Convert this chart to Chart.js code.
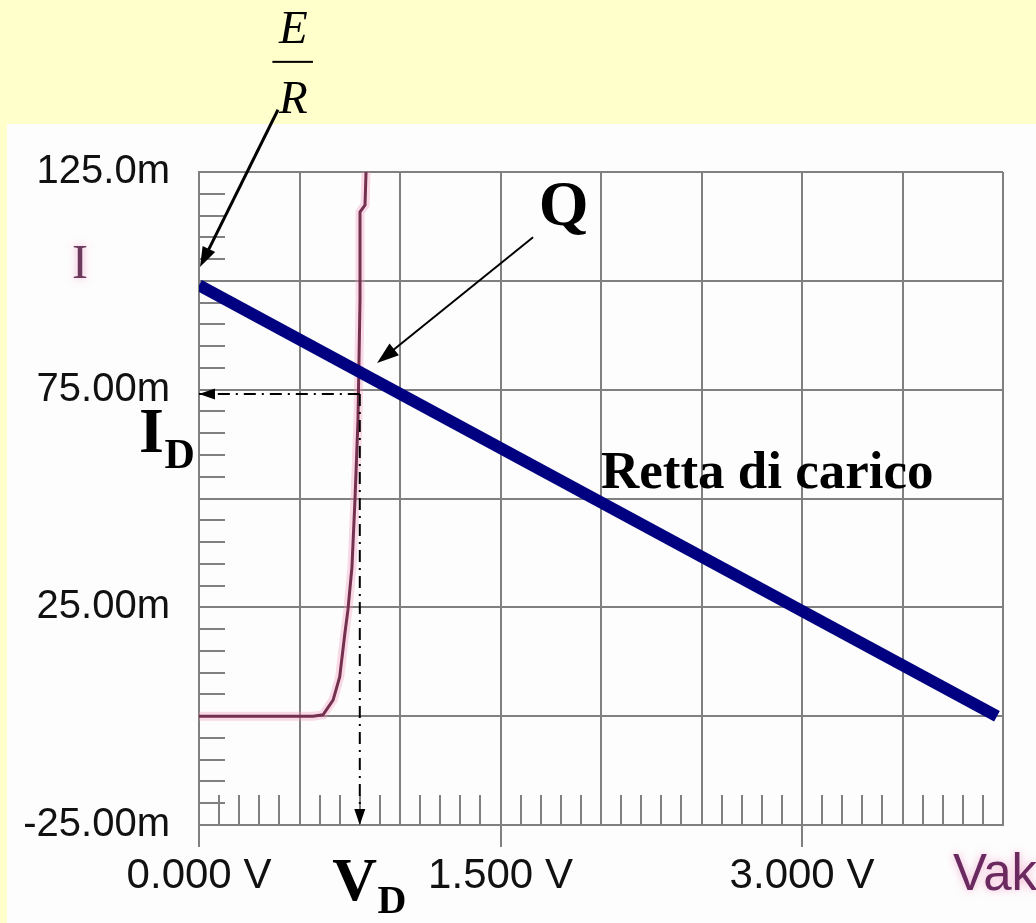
<!DOCTYPE html>
<html lang="it">
<head>
<meta charset="utf-8">
<title>Retta di carico</title>
<script src="https://cdn.jsdelivr.net/npm/chart.js@4.4.1/dist/chart.umd.min.js"></script>
<style>
  html, body { margin: 0; padding: 0; background: #ffffcc; }
  #contenitore { position: relative; width: 1036px; height: 923px; overflow: hidden; }
  #pannello { position: absolute; left: 7px; top: 124px; right: 0; bottom: 0; background: #fdfdfd; }
  #grafico { position: absolute; left: 0; top: 0; }
</style>
</head>
<body>
<div id="contenitore">
  <div id="pannello"></div>
  <canvas id="grafico" width="1036" height="923"></canvas>
</div>
<script>
const ctx = document.getElementById('grafico').getContext('2d');

// Caratteristica del diodo: tensione (V) e corrente (mA)
const tensioneDiodo = [0, 0.567, 0.617, 0.667, 0.70, 0.726, 0.741, 0.761, 0.776, 0.791, 0.801, 0.801, 0.826, 0.831];
const correnteDiodo = [0, 0, 0.3, 3.7, 9.0, 19.1, 24.4, 34.3, 49.7, 68, 95.6, 115.8, 117.4, 125];

// Retta di carico: da E/R sull'asse I fino a E sull'asse V
const tensioneCarico = [0, 3.97];
const correnteCarico = [99, 0];

// Punto di lavoro Q
const tensioneQ = 0.80;
const correnteQ = 74;

// Etichette degli assi
const valoriX = [0, 1.5, 3];
const etichetteX = ['0.000 V', '1.500 V', '3.000 V'];
const valoriY = [125, 75, 25, -25];
const etichetteY = ['125.0m', '75.00m', '25.00m', '-25.00m'];

const punti = (xs, ys) => xs.map((x, i) => ({ x, y: ys[i] }));
const grigio = '#808080';
const serif = '"Liberation Serif", "Times New Roman", serif';

// Freccia con punta piena
function freccia(c, x0, y0, x1, y1, spessore, lung, larg) {
  const ang = Math.atan2(y1 - y0, x1 - x0);
  c.lineWidth = spessore;
  c.beginPath();
  c.moveTo(x0, y0);
  c.lineTo(x1 - Math.cos(ang) * lung * 0.8, y1 - Math.sin(ang) * lung * 0.8);
  c.stroke();
  punta(c, x1, y1, ang, lung, larg);
}

function punta(c, x1, y1, ang, lung, larg) {
  const bx = x1 - lung * Math.cos(ang), by = y1 - lung * Math.sin(ang);
  c.beginPath();
  c.moveTo(x1, y1);
  c.lineTo(bx + larg / 2 * Math.sin(ang), by - larg / 2 * Math.cos(ang));
  c.lineTo(bx - larg / 2 * Math.sin(ang), by + larg / 2 * Math.cos(ang));
  c.closePath();
  c.fill();
}

const annotazioni = {
  id: 'annotazioni',
  // tacche secondarie sugli assi
  beforeDatasetsDraw(chart) {
    const { ctx: c, chartArea: a, scales: { x, y } } = chart;
    c.save();
    c.strokeStyle = grigio;
    c.lineWidth = 2;
    c.beginPath();
    for (let k = -5; k < 25; k++) {
      if (k % 5 === 0) continue;
      const py = Math.round(y.getPixelForValue(k * 5));
      c.moveTo(a.left, py);
      c.lineTo(a.left + 26, py);
    }
    for (let k = 1; k < 40; k++) {
      if (k % 5 === 0) continue;
      const px = Math.round(x.getPixelForValue(k / 10));
      c.moveTo(px, a.bottom);
      c.lineTo(px, a.bottom - 30);
    }
    c.stroke();
    c.restore();
  },
  afterDraw(chart) {
    const { ctx: c, scales: { x, y } } = chart;
    const px = v => x.getPixelForValue(v);
    const py = v => y.getPixelForValue(v);
    c.save();
    c.fillStyle = '#000';
    c.strokeStyle = '#000';

    // frecce verso E/R e verso Q
    freccia(c, px(0.393), py(139.3), px(0.005), py(103.2), 3, 20, 14);
    freccia(c, px(1.662), py(110), px(0.886), py(81.1), 2, 22, 15);

    // punte delle proiezioni di Q sugli assi
    punta(c, px(0), py(correnteQ), Math.PI, 16, 11);
    punta(c, px(tensioneQ), py(-25), Math.PI / 2, 16, 11);

    // E/R
    c.textAlign = 'center';
    c.textBaseline = 'alphabetic';
    c.font = 'italic 47px ' + serif;
    c.fillText('E', px(0.47), py(154.7));
    c.fillText('R', px(0.47), py(138.6));
    c.fillRect(px(0.365), py(150.3) - 1, px(0.567) - px(0.365), 2);

    // Q
    c.textAlign = 'left';
    c.font = 'bold 64px ' + serif;
    c.fillText('Q', px(1.69), py(112.8));

    // Retta di carico
    c.font = 'bold 53px ' + serif;
    c.fillText('Retta di carico', px(2.0), py(52.4));

    // I_D
    c.font = 'bold 64px ' + serif;
    c.fillText('I', px(-0.298), py(60.7));
    c.font = 'bold 42px ' + serif;
    c.fillText('D', px(-0.172), py(57.0));

    // V_D
    c.font = 'bold 62px ' + serif;
    c.fillText('V', px(0.663), py(-42.2));
    c.font = 'bold 40px ' + serif;
    c.fillText('D', px(0.888), py(-45.2));

    // nomi delle grandezze
    c.shadowColor = 'rgba(240, 140, 190, 0.7)';
    c.shadowBlur = 8;
    c.fillStyle = '#6c3a5c';
    c.textAlign = 'center';
    c.font = '48px ' + serif;
    c.fillText('I', px(-0.592), py(100.7));
    c.textAlign = 'left';
    c.fillStyle = '#6a2a60';
    c.font = '51px "Liberation Sans", Arial, sans-serif';
    c.fillText('Vak', px(3.751), py(-39.9));
    c.restore();
  }
};

const tratteggio = [12, 6, 2, 6];

new Chart(ctx, {
  type: 'scatter',
  data: {
    datasets: [
      {
        label: 'I_D',
        data: punti([tensioneQ, 0], [correnteQ, correnteQ]),
        showLine: true, borderColor: '#000', borderWidth: 2, borderDash: tratteggio
      },
      {
        label: 'V_D',
        data: punti([tensioneQ, tensioneQ], [correnteQ, -25]),
        showLine: true, borderColor: '#000', borderWidth: 2, borderDash: tratteggio
      },
      {
        label: 'Retta di carico',
        data: punti(tensioneCarico, correnteCarico),
        showLine: true, borderColor: '#000080', borderWidth: 12, borderCapStyle: 'butt'
      },
      {
        label: 'Diodo',
        data: punti(tensioneDiodo, correnteDiodo),
        showLine: true, borderColor: '#74304f', borderWidth: 3
      },
      {
        label: 'Diodo alone',
        data: punti(tensioneDiodo, correnteDiodo),
        showLine: true, borderColor: 'rgba(240, 150, 185, 0.35)', borderWidth: 9
      }
    ]
  },
  options: {
    responsive: false,
    animation: false,
    devicePixelRatio: 1,
    layout: { padding: { top: 172, right: 33, left: 0, bottom: 0 } },
    elements: { point: { radius: 0 } },
    plugins: { legend: { display: false }, tooltip: { enabled: false } },
    scales: {
      x: {
        type: 'linear',
        min: 0,
        max: 4,
        afterFit: s => { s.height = 98; },
        ticks: {
          stepSize: 0.5,
          autoSkip: false,
          maxRotation: 0,
          padding: 4,
          color: '#111',
          font: { family: 'Liberation Sans', size: 42 },
          callback: v => {
            const i = valoriX.indexOf(v);
            return i >= 0 ? etichetteX[i] : '';
          }
        },
        grid: {
          color: grigio,
          lineWidth: 2,
          tickLength: 22,
          tickWidth: 2,
          tickColor: c => valoriX.includes(c.tick && c.tick.value) ? grigio : 'rgba(0,0,0,0)'
        },
        border: { color: grigio, width: 2 }
      },
      y: {
        type: 'linear',
        min: -25,
        max: 125,
        afterFit: s => { s.width = 199; },
        ticks: {
          stepSize: 25,
          autoSkip: false,
          padding: 29,
          color: '#111',
          font: { family: 'Liberation Sans', size: 40 },
          callback: v => {
            const i = valoriY.indexOf(v);
            return i >= 0 ? etichetteY[i] : '';
          }
        },
        grid: { color: grigio, lineWidth: 2, drawTicks: false },
        border: { color: grigio, width: 2 }
      }
    }
  },
  plugins: [annotazioni]
});
</script>
</body>
</html>
